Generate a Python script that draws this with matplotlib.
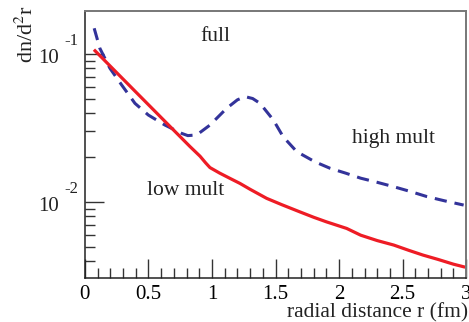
import numpy as np
import matplotlib
matplotlib.use("Agg")
import matplotlib.pyplot as plt
from matplotlib.ticker import FixedLocator, FuncFormatter, MultipleLocator
from matplotlib.transforms import blended_transform_factory

# low mult (red, solid)
r_low = [0.08, 0.394, 0.70, 0.827, 0.906, 0.95, 0.984, 1.06, 1.142, 1.22, 1.30,
         1.43, 1.55, 1.69, 1.80, 1.90, 2.06, 2.17, 2.30, 2.43, 2.55, 2.66, 2.78, 2.90, 2.98]
n_low = [0.105, 0.0561, 0.0305, 0.0237, 0.0204, 0.0184, 0.0171, 0.0157, 0.01445,
         0.01337, 0.0122, 0.0106, 0.0096, 0.0086, 0.0079, 0.00736, 0.00664, 0.00598,
         0.0055, 0.00513, 0.00472, 0.00439, 0.0041, 0.00381, 0.00366]

# high mult (blue, dashed)
r_high = [0.073, 0.118, 0.197, 0.289, 0.394, 0.499, 0.63, 0.761, 0.81, 0.88, 0.984, 1.116,
          1.20, 1.26, 1.32, 1.378, 1.483, 1.56, 1.667, 1.81, 1.93, 2.05, 2.17, 2.30, 2.43,
          2.56, 2.69, 2.83, 2.98]
n_high = [0.149, 0.109, 0.080, 0.0618, 0.0464, 0.0387, 0.0331, 0.0291, 0.0281, 0.0284,
          0.0331, 0.043, 0.049, 0.0515, 0.050, 0.0464, 0.0358, 0.0276, 0.0219, 0.0187,
          0.0169, 0.0157, 0.0145, 0.0136, 0.0127, 0.0118, 0.0109, 0.0102, 0.00955]

y_ticks = [0.01, 0.1]

plt.rcParams['font.family'] = ['Liberation Serif', 'DejaVu Serif']
plt.rcParams['mathtext.fontset'] = 'stix'

fig = plt.figure(figsize=(4.69, 3.22), dpi=100)
ax = fig.add_axes([0.181, 0.137, 0.813, 0.829])

ax.plot(r_high, n_high, color='#33339a', lw=2.2, dashes=(4, 2.6))
ax.plot(r_low, n_low, color='#ee1c25', lw=2.3)

ax.set_yscale('log')
ax.set_xlim(0, 3)
ax.set_ylim(0.00308, 0.195)

ax.xaxis.set_major_locator(MultipleLocator(0.5))
ax.xaxis.set_minor_locator(MultipleLocator(0.1))
ax.xaxis.set_major_formatter(FuncFormatter(lambda v, p: f"{v:g}"))
ax.yaxis.set_major_locator(FixedLocator(y_ticks))
ax.yaxis.set_major_formatter(FuncFormatter(lambda v, p: ""))

ax.tick_params(which='both', direction='in', top=False, right=False, labelsize=15,
               color='#333333')
ax.tick_params(which='major', length=14, width=1)
ax.tick_params(which='minor', length=7, width=1)
ax.tick_params(axis='x', pad=5)

# ROOT-style 10^n labels drawn by hand
tr = blended_transform_factory(fig.transFigure, ax.transData)
for v in y_ticks:
    ax.text(0.103, v * 0.93, '10', transform=tr, ha='center', va='center', fontsize=15,
            color='#222222')
    ax.text(0.153, v * 1.22, str(int(round(np.log10(v)))), transform=tr, ha='center',
            va='center', fontsize=12, color='#222222')

for s in ['left', 'bottom']:
    ax.spines[s].set_color('#222222')
    ax.spines[s].set_linewidth(1.1)
for s in ['top', 'right']:
    ax.spines[s].set_color('#777777')
    ax.spines[s].set_linewidth(1.4)

ax.text(1.03, 0.132, 'full', fontsize=15.5, ha='center', va='center', color='#222222')
ax.text(0.795, 0.0119, 'low mult', fontsize=15.5, ha='center', va='center', color='#222222')
ax.text(2.425, 0.027, 'high mult', fontsize=15.5, ha='center', va='center', color='#222222')

fig.text(0.057, 0.985, r'dn/d$^2$r', rotation=90, ha='center', va='top', fontsize=16,
         color='#222222')
fig.text(0.999, 0.0, 'radial distance r (fm)', ha='right', va='bottom', fontsize=15.5,
         color='#222222')

fig.savefig('out.png', dpi=100)
